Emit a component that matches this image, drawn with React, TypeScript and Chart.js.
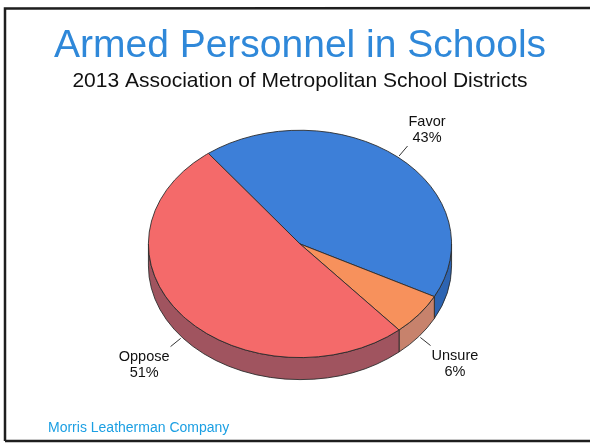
import React, { useEffect, useRef } from "react";
import { Chart, registerables } from "chart.js";

Chart.register(...registerables);

const categories = ["Favor", "Unsure", "Oppose"];
const values = [43, 6, 51];
const topColors = ["#3d7fd8", "#f7915c", "#f46a6a"];
const sideColors = ["#2d64b2", "#c7826c", "#a0545f"];
const titleText = "Armed Personnel in Schools";
const subtitleText = "2013 Association of Metropolitan School Districts";
const footerText = "Morris Leatherman Company";

const FONT = "'Liberation Sans', Arial, Helvetica, sans-serif";
const TILT = 0.75; // vertical squash of the pie
const DEPTH = 22; // side wall thickness in pixels

const pie3d = {
  id: "pie3d",
  beforeDatasetsDraw(chart: any) {
    const ctx = chart.ctx;
    const meta = chart.getDatasetMeta(0);
    const arcs = meta.data;
    if (!arcs.length) return;
    const cx = arcs[0].x;
    const cy = arcs[0].y;
    ctx.save();
    ctx.translate(cx, cy);
    ctx.scale(1, TILT);
    ctx.translate(-cx, -cy);
    const d = DEPTH / TILT;
    arcs.forEach((arc: any, i: number) => {
      const { startAngle, endAngle, outerRadius } = arc.getProps(["startAngle", "endAngle", "outerRadius"], true);
      for (let n = -2; n <= 2; n++) {
        const lo = Math.max(startAngle, 2 * Math.PI * n);
        const hi = Math.min(endAngle, 2 * Math.PI * n + Math.PI);
        if (hi > lo) {
          ctx.beginPath();
          ctx.arc(cx, cy, outerRadius, lo, hi);
          ctx.arc(cx, cy + d, outerRadius, hi, lo, true);
          ctx.closePath();
          ctx.fillStyle = sideColors[i];
          ctx.fill();
          ctx.lineWidth = 1;
          ctx.strokeStyle = "#2a2a2a";
          ctx.stroke();
        }
      }
    });
  },
  afterDatasetsDraw(chart: any) {
    const ctx = chart.ctx;
    ctx.restore();
    const meta = chart.getDatasetMeta(0);
    const total = values.reduce((a, b) => a + b, 0);
    ctx.save();
    ctx.font = `14.5px ${FONT}`;
    ctx.fillStyle = "#111";
    ctx.strokeStyle = "#333";
    ctx.lineWidth = 1;
    meta.data.forEach((arc: any, i: number) => {
      const { startAngle, endAngle, outerRadius, x, y } = arc.getProps(["startAngle", "endAngle", "outerRadius", "x", "y"], true);
      const mid = (startAngle + endAngle) / 2;
      const c = Math.cos(mid);
      const s = Math.sin(mid);
      const sx = x + (outerRadius + 2) * c;
      const sy = y + TILT * (outerRadius + 2) * s + (s > 0 ? DEPTH : 0);
      const ex = sx + 13 * c;
      const ey = sy + 13 * s;
      ctx.beginPath();
      ctx.moveTo(sx, sy);
      ctx.lineTo(ex, ey);
      ctx.stroke();
      const l1 = categories[i];
      const l2 = Math.round((values[i] / total) * 100) + "%";
      const w = Math.max(ctx.measureText(l1).width, ctx.measureText(l2).width);
      const tx = ex + Math.sign(c) * (w / 2 + 1);
      const ty = ey + Math.sign(s) * 17 + 1;
      ctx.textAlign = "center";
      ctx.textBaseline = "middle";
      ctx.fillText(l1, tx, ty - 8);
      ctx.fillText(l2, tx, ty + 8);
    });
    ctx.restore();
  },
  afterDraw(chart: any) {
    const ctx = chart.ctx;
    ctx.save();
    // slide frame
    ctx.strokeStyle = "#1e1e1e";
    ctx.lineWidth = 2.5;
    ctx.beginPath();
    ctx.moveTo(5, 441);
    ctx.lineTo(5, 8.5);
    ctx.lineTo(592, 8);
    ctx.stroke();
    ctx.beginPath();
    ctx.moveTo(5, 441);
    ctx.lineTo(592, 441);
    ctx.stroke();
    // footer
    ctx.font = `14px ${FONT}`;
    ctx.fillStyle = "#1b9fe3";
    ctx.textAlign = "left";
    ctx.textBaseline = "alphabetic";
    ctx.fillText(footerText, 48, 432);
    ctx.restore();
  },
};

export default function App() {
  const ref = useRef<HTMLCanvasElement>(null);
  useEffect(() => {
    const canvas = ref.current;
    if (!canvas) return;
    const chart = new Chart(canvas, {
      type: "pie",
      data: {
        labels: categories,
        datasets: [
          {
            data: values,
            backgroundColor: topColors,
            borderColor: "#2a2a2a",
            borderWidth: 1,
            clip: false as any,
          },
        ],
      },
      options: {
        responsive: false,
        animation: false,
        devicePixelRatio: 1,
        rotation: -37.2,
        layout: { padding: { top: 0, bottom: 48, left: 10, right: 0 } },
        events: [],
        plugins: {
          legend: { display: false },
          tooltip: { enabled: false },
          title: {
            display: true,
            text: titleText,
            color: "#2f88d9",
            font: { family: FONT, size: 39, weight: "normal", lineHeight: 1.2 },
            padding: { top: 23, bottom: 0 },
          },
          subtitle: {
            display: true,
            text: subtitleText,
            color: "#111",
            font: { family: FONT, size: 21, weight: "normal", lineHeight: 1.05 },
            padding: { top: 0, bottom: 0 },
          },
        },
      },
      plugins: [pie3d],
    });
    return () => chart.destroy();
  }, []);
  return (
    <div style={{ position: "fixed", left: 0, top: 0, width: 590, height: 444, overflow: "hidden", background: "#fff" }}>
      <canvas ref={ref} width={590} height={444} style={{ display: "block" }} />
    </div>
  );
}
